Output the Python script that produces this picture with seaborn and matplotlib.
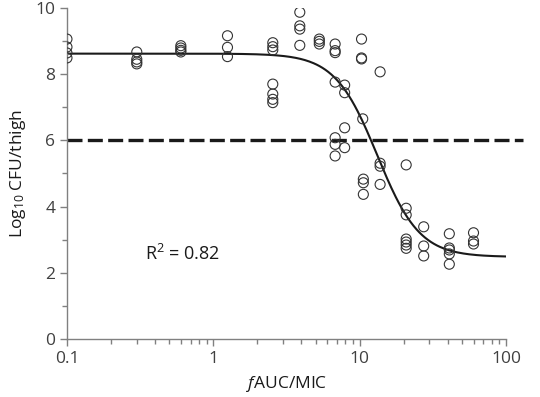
import numpy as np
import pandas as pd
import seaborn as sns
import matplotlib.pyplot as plt
from matplotlib.ticker import FixedLocator, NullFormatter

auc_mic = [0.1, 0.1, 0.1, 0.1,
           0.3, 0.3, 0.3, 0.3,
           0.6, 0.6, 0.6, 0.6,
           1.25, 1.25, 1.25,
           2.55, 2.55, 2.55, 2.55, 2.55, 2.55, 2.55,
           3.9, 3.9, 3.9, 3.9,
           5.3, 5.3, 5.3,
           6.8, 6.8, 6.8, 6.8, 6.8, 6.8, 6.8,
           7.9, 7.9, 7.9, 7.9,
           10.3, 10.3, 10.3, 10.5,
           10.6, 10.6, 10.6,
           13.8, 13.8, 13.8, 13.8,
           20.8, 20.8, 20.8, 20.8, 20.8, 20.8, 20.8,
           27.4, 27.4, 27.4,
           41, 41, 41, 41, 41,
           60, 60, 60]
log_cfu = [9.06, 8.82, 8.64, 8.49,
           8.67, 8.45, 8.37, 8.31,
           8.86, 8.79, 8.72, 8.67,
           9.16, 8.81, 8.53,
           8.95, 8.83, 8.73, 7.70, 7.40, 7.24, 7.14,
           9.87, 9.46, 9.36, 8.87,
           9.06, 8.99, 8.91,
           8.91, 8.71, 8.65, 7.76, 6.08, 5.88, 5.53,
           7.67, 7.44, 6.38, 5.78,
           9.06, 8.49, 8.46, 6.65,
           4.83, 4.72, 4.37,
           8.07, 5.31, 5.22, 4.67,
           5.26, 3.95, 3.75, 3.02, 2.93, 2.84, 2.74,
           3.39, 2.81, 2.51,
           3.18, 2.75, 2.69, 2.57, 2.26,
           3.21, 2.96, 2.87]

# fitted sigmoid Emax model parameters
e0 = 8.62
emax = 6.14
ec50 = 13.2
hill = 3.0
stasis = 6.0
r2_text = "R$^2$ = 0.82"

df = pd.DataFrame({"x": auc_mic, "y": log_cfu})
xs = np.logspace(-1, 2, 300)
fit = pd.DataFrame({"x": xs, "y": e0 - emax * xs**hill / (ec50**hill + xs**hill)})

sns.set_style("white")
plt.rcParams["font.family"] = ["Open Sans", "DejaVu Sans"]
plt.rcParams["mathtext.fontset"] = "custom"
plt.rcParams["mathtext.rm"] = "Open Sans"
plt.rcParams["mathtext.it"] = "Open Sans:italic"

fig, ax = plt.subplots(figsize=(5.4, 3.97), dpi=100)
fig.subplots_adjust(left=0.124, right=0.937, top=0.98, bottom=0.146)

sns.scatterplot(data=df, x="x", y="y", ax=ax, marker="o", s=52,
                facecolor="none", edgecolor="#333333", linewidth=0.8, zorder=3)
sns.lineplot(data=fit, x="x", y="y", ax=ax, color="#1a1a1a", linewidth=1.5, zorder=2)
ax.plot([0.1, 130], [stasis, stasis], color="#1a1a1a", linewidth=2.4,
        dashes=(4.5, 1.6), clip_on=False, zorder=2)

ax.set_xscale("log")
ax.set_xlim(0.1, 100)
ax.set_ylim(0, 10)
ax.set_xticks([0.1, 1, 10, 100])
ax.set_xticklabels(["0.1", "1", "10", "100"])
ax.xaxis.set_minor_formatter(NullFormatter())
ax.set_yticks([0, 2, 4, 6, 8, 10])
ax.yaxis.set_minor_locator(FixedLocator([1, 3, 5, 7, 9]))

for s in ["top", "right"]:
    ax.spines[s].set_visible(False)
for s in ["left", "bottom"]:
    ax.spines[s].set_color("#808080")
    ax.spines[s].set_linewidth(1.0)
ax.tick_params(which="both", direction="out", color="#808080", width=1.0,
               labelsize=12.5, labelcolor="#404040", left=True, bottom=True)
ax.tick_params(which="major", length=5)
ax.tick_params(which="minor", length=3.5)

ax.set_xlabel(r"$\mathit{f}$AUC/MIC", fontsize=12.5, color="#1a1a1a", labelpad=5)
ax.set_ylabel("Log$_{10}$ CFU/thigh", fontsize=12.5, color="#1a1a1a", labelpad=5)
ax.text(0.34, 2.57, r2_text, fontsize=13, color="#1a1a1a", va="center")

fig.savefig("out.png", dpi=100)
